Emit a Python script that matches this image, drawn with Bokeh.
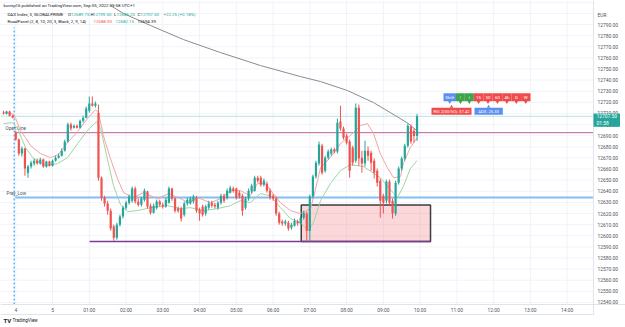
from bokeh.plotting import figure
from bokeh.models import Range1d
from bokeh.embed import file_html
from bokeh.resources import INLINE
from bokeh.core.properties import value

# ---- DAX Index, 5-minute bars (bar index 0..3 = Friday close, 4.. = new session) ----
opens = [12710.75, 12710.0, 12711.75, 12708.0, 12692.75, 12686.5, 12674.0, 12678.5, 12656.75, 12662.25,
         12665.0, 12667.5, 12665.0, 12668.5, 12662.25, 12666.75, 12663.0, 12667.5, 12670.25, 12672.0,
         12676.5, 12684.75, 12700.0, 12697.25, 12699.0, 12697.25, 12703.5, 12706.25, 12712.5, 12719.0,
         12717.0, 12710.75, 12652.25, 12634.25, 12629.0, 12622.5, 12608.25, 12598.25, 12610.0, 12617.25,
         12625.25, 12629.75, 12631.5, 12642.5, 12630.75, 12628.0, 12632.5, 12639.75, 12627.0, 12620.75,
         12625.25, 12630.75, 12628.0, 12626.25, 12629.75, 12642.5, 12633.5, 12624.5, 12624.5, 12619.0,
         12629.0, 12629.0, 12630.75, 12634.25, 12623.5, 12626.25, 12620.0, 12625.25, 12629.75, 12628.0,
         12625.25, 12629.75, 12636.0, 12634.25, 12638.75, 12642.5, 12642.5, 12638.75, 12636.0, 12625.25,
         12633.5, 12639.75, 12640.5, 12652.25, 12652.25, 12646.0, 12646.75, 12640.5, 12636.0, 12633.5,
         12620.0, 12612.75, 12611.0, 12611.75, 12607.25, 12609.0, 12612.75, 12611.0, 12616.25, 12620.0,
         12604.5, 12635.25, 12653.25, 12665.0, 12681.0, 12658.5, 12670.25, 12674.0, 12677.5, 12675.75,
         12702.75, 12696.5, 12690.0, 12684.75, 12679.25, 12667.5, 12715.25, 12670.25, 12665.0, 12676.5,
         12674.75, 12667.5, 12658.5, 12649.5, 12636.0, 12631.5, 12648.75, 12631.5, 12620.0, 12647.75,
         12660.5, 12669.5, 12681.0, 12698.25, 12694.5, 12689.75]
highs = [12712.5, 12712.5, 12712.5, 12709.0, 12694.5, 12687.5, 12680.25, 12679.25, 12663.75, 12667.5,
         12669.5, 12669.5, 12670.25, 12669.5, 12667.5, 12667.5, 12668.5, 12672.0, 12674.0, 12678.5,
         12686.5, 12701.75, 12701.75, 12700.0, 12700.0, 12704.5, 12708.0, 12716.25, 12725.25, 12725.25,
         12720.75, 12718.0, 12653.25, 12636.0, 12631.5, 12624.5, 12610.0, 12611.75, 12619.0, 12627.0,
         12631.5, 12637.0, 12644.25, 12644.25, 12633.5, 12635.25, 12642.5, 12640.5, 12629.0, 12629.0,
         12632.5, 12632.5, 12629.75, 12634.25, 12644.25, 12643.25, 12634.25, 12626.25, 12626.25, 12630.75,
         12634.25, 12635.25, 12637.0, 12636.0, 12625.25, 12628.0, 12628.0, 12631.5, 12631.5, 12629.75,
         12631.5, 12637.75, 12637.75, 12642.5, 12645.0, 12644.25, 12643.25, 12640.5, 12637.75, 12635.25,
         12642.5, 12646.75, 12654.0, 12654.0, 12654.0, 12651.5, 12648.75, 12642.5, 12637.75, 12635.25,
         12621.75, 12614.5, 12614.5, 12613.5, 12611.75, 12615.5, 12614.5, 12618.0, 12622.5, 12621.75,
         12637.0, 12655.0, 12667.5, 12684.75, 12682.75, 12672.0, 12677.5, 12679.25, 12679.25, 12705.5,
         12717.0, 12698.25, 12691.75, 12686.5, 12681.0, 12719.0, 12718.0, 12676.5, 12685.5, 12680.25,
         12676.5, 12669.5, 12660.5, 12651.5, 12637.75, 12650.5, 12650.5, 12633.5, 12649.5, 12662.25,
         12671.25, 12682.75, 12700.75, 12700.0, 12696.5, 12709.5]
lows = [12709.0, 12709.0, 12707.25, 12705.5, 12685.5, 12672.0, 12671.25, 12654.0, 12652.25, 12660.5,
        12663.0, 12664.0, 12664.0, 12661.25, 12661.25, 12662.25, 12662.25, 12666.75, 12669.5, 12671.25,
        12675.75, 12683.75, 12694.5, 12696.5, 12696.5, 12696.5, 12701.75, 12705.5, 12710.75, 12716.25,
        12715.25, 12649.5, 12631.5, 12626.25, 12619.0, 12604.5, 12595.5, 12596.5, 12608.25, 12615.5,
        12623.5, 12628.0, 12629.75, 12629.0, 12626.25, 12626.25, 12630.75, 12624.5, 12619.0, 12620.0,
        12623.5, 12626.25, 12624.5, 12625.25, 12629.0, 12631.5, 12620.75, 12620.75, 12612.75, 12617.25,
        12627.0, 12628.0, 12629.0, 12620.75, 12613.5, 12617.25, 12618.0, 12623.5, 12625.25, 12624.5,
        12623.5, 12628.0, 12629.75, 12632.5, 12638.0, 12638.75, 12632.5, 12633.5, 12618.0, 12623.5,
        12631.5, 12638.0, 12639.75, 12647.75, 12644.25, 12644.25, 12638.75, 12632.5, 12631.5, 12618.0,
        12610.0, 12609.0, 12609.0, 12604.5, 12605.5, 12608.25, 12609.0, 12610.0, 12614.5, 12595.5,
        12594.75, 12633.5, 12651.5, 12663.0, 12655.0, 12656.75, 12668.5, 12672.0, 12674.0, 12674.0,
        12694.5, 12686.5, 12682.0, 12652.25, 12663.0, 12665.75, 12663.0, 12656.75, 12662.25, 12667.5,
        12658.5, 12651.5, 12644.25, 12616.25, 12620.0, 12629.0, 12628.0, 12615.5, 12618.0, 12646.0,
        12658.5, 12667.5, 12679.25, 12682.75, 12683.75, 12685.25]
closes = [12710.0, 12711.75, 12708.0, 12706.25, 12686.5, 12674.0, 12678.5, 12660.5, 12662.25, 12665.75,
          12667.5, 12665.0, 12668.5, 12662.25, 12666.75, 12663.0, 12667.5, 12670.25, 12672.0, 12676.5,
          12684.75, 12700.0, 12696.5, 12699.0, 12697.25, 12703.5, 12706.25, 12714.5, 12719.0, 12717.0,
          12719.0, 12652.25, 12634.25, 12629.0, 12622.5, 12606.5, 12598.25, 12610.0, 12617.25, 12625.25,
          12629.75, 12635.25, 12642.5, 12630.75, 12628.0, 12633.5, 12640.5, 12626.25, 12620.75, 12627.0,
          12630.75, 12628.0, 12626.25, 12632.5, 12642.5, 12633.5, 12622.5, 12622.5, 12615.5, 12629.0,
          12632.5, 12633.5, 12635.25, 12622.5, 12620.0, 12619.0, 12626.25, 12629.0, 12627.0, 12626.25,
          12629.75, 12636.0, 12631.5, 12640.5, 12643.25, 12640.5, 12634.25, 12635.25, 12622.5, 12633.5,
          12640.5, 12645.0, 12652.25, 12649.5, 12646.0, 12649.5, 12640.5, 12634.25, 12633.5, 12620.0,
          12611.75, 12611.0, 12612.75, 12606.5, 12610.0, 12613.5, 12611.0, 12616.25, 12620.75, 12604.5,
          12635.25, 12653.25, 12665.75, 12682.0, 12656.75, 12670.25, 12675.75, 12677.5, 12675.75, 12701.75,
          12696.5, 12688.25, 12683.75, 12658.5, 12665.75, 12715.25, 12669.5, 12665.0, 12676.5, 12672.0,
          12665.75, 12656.75, 12647.75, 12631.5, 12629.75, 12648.75, 12629.75, 12620.0, 12647.75, 12660.5,
          12669.5, 12681.0, 12699.0, 12684.75, 12689.75, 12707.5]
bars = list(range(len(closes)))

# ---- RoadPanel lines (bar index, price) ----
upper_bar = [0, 3, 4, 5.5, 7.2, 8.8, 12.1, 15.3, 17.9, 20.9, 24.2, 27.4, 30.0, 31.0, 32.6, 34.9, 37.2,
             39.2, 42.4, 45.7, 50.3, 53.9, 57.1, 60.4, 63.3, 67.6, 70.8, 74.1, 77.3, 80.6, 82.9, 85.5,
             88.1, 90.4, 93.7, 96.9, 100.2, 101.2, 102.5, 103.5, 106.7, 110.0, 113.2, 116.5, 118.8,
             120.8, 123.0, 125.3, 127.3, 129.6, 130.5, 132.8, 135]
upper_val = [12710.8, 12709.9, 12705.4, 12694.6, 12688.3, 12681.1, 12673.9, 12670.3, 12673.0, 12683.8,
             12693.7, 12705.4, 12713.5, 12710.8, 12690.1, 12669.4, 12651.4, 12638.8, 12634.3, 12638.8,
             12633.4, 12637.9, 12634.3, 12629.8, 12634.3, 12629.8, 12633.4, 12640.6, 12640.6, 12636.1,
             12646.9, 12646.9, 12637.9, 12629.8, 12622.6, 12619.9, 12624.4, 12634.3, 12649.6, 12661.3,
             12670.3, 12682.9, 12690.1, 12699.1, 12700.9, 12691.9, 12673.9, 12661.3, 12652.3, 12653.2,
             12664.9, 12679.3, 12688.0]
lower_bar = [0, 3, 4.6, 7.2, 9.8, 13.7, 17.6, 20.9, 24.2, 27.4, 30.4, 31.7, 33.9, 35.9, 38.2, 40.5,
             43.7, 48.0, 53.5, 57.8, 61.0, 65.3, 69.8, 74.1, 77.3, 80.6, 83.9, 87.1, 90.4, 93.7, 96.9,
             99.5, 101.2, 103.5, 106.7, 110.0, 113.2, 117.5, 123.0, 126.3, 128.6, 130.5, 132.8, 135]
lower_val = [12700.9, 12701.8, 12696.4, 12679.3, 12669.4, 12663.1, 12664.9, 12670.3, 12682.9, 12694.6,
             12702.7, 12696.4, 12669.4, 12645.1, 12628.0, 12621.7, 12622.6, 12625.3, 12627.1, 12624.4,
             12625.3, 12622.6, 12624.4, 12627.1, 12631.6, 12629.8, 12637.9, 12636.1, 12625.3, 12615.4,
             12611.8, 12604.6, 12611.8, 12631.6, 12646.9, 12658.6, 12664.0, 12662.2, 12652.3, 12641.5,
             12634.3, 12644.2, 12660.4, 12667.6]
slow_bar = [34.9, 39.2, 48.0, 58.7, 70.8, 83.9, 96.9, 103.5, 112.3, 120.8, 127.9, 132.2, 135]
slow_val = [12807.1, 12799.9, 12789.1, 12776.5, 12764.8, 12753.1, 12743.2, 12738.7, 12730.6, 12719.8,
            12708.1, 12700.9, 12694.39]

# ---- levels and zone ----
session_bar = 4                 # first bar of the new session
open_level = opens[session_bar]
prev_low = 12634.5
zone_left, zone_right = 97.2, 139.4
zone_top, zone_bottom = 12627.75, 12594.75
base_line_start = 28.1

# ---- scales ----
hour_bars = [4, 16, 28, 40, 52, 64, 76, 88, 100, 112, 124, 136, 148, 160, 172, 184]
hour_labels = ["4", "5", "01:00", "02:00", "03:00", "04:00", "05:00", "06:00", "07:00", "08:00",
               "09:00", "10:00", "11:00", "12:00", "13:00", "14:00"]
price_ticks = list(range(12540, 12800, 10))
grid_ticks = list(range(12540, 12820, 10))
countdown = "01:58"

UP, DOWN = "#26a69a", "#ef5350"
TXT = "#131722"
AXT = "#50535e"
LINE = "#e0e3eb"
FONT = value("Roboto")

W, H = 625, 327
PX_PER_BAR = 3.0633
PX_PER_PT = 1.11192
X0 = -0.98
Y1 = 12811.6
X1 = X0 + W / PX_PER_BAR
Y0 = Y1 - H / PX_PER_PT


def px_x(px):
    return X0 + px / PX_PER_BAR


def px_y(py):
    return Y1 - py / PX_PER_PT


PANE_R = px_x(593)      # right edge of the price pane
PANE_B = px_y(304)      # bottom edge of the price pane

p = figure(width=W, height=H, x_range=Range1d(X0, X1), y_range=Range1d(Y0, Y1),
           output_backend="svg", toolbar_location=None,
           min_border_left=0, min_border_top=0, min_border_right=0, min_border_bottom=0)
p.axis.visible = False
p.grid.visible = False
p.outline_line_color = None
p.background_fill_color = "white"
p.border_fill_color = "white"

# grid
p.segment(x0=hour_bars, y0=[PANE_B] * len(hour_bars), x1=hour_bars, y1=[Y1] * len(hour_bars),
          line_color="#f0f3fa", line_width=1)
p.segment(x0=[X0] * len(grid_ticks), y0=grid_ticks, x1=[PANE_R] * len(grid_ticks), y1=grid_ticks,
          line_color="#f0f3fa", line_width=1)

# last price line
p.segment(x0=[X0], y0=[closes[-1]], x1=[PANE_R], y1=[closes[-1]], line_color=UP, line_alpha=0.3, line_width=1)

# zone box and base line
p.quad(left=zone_left, right=zone_right, bottom=zone_bottom, top=zone_top,
       fill_color="#f23645", fill_alpha=0.2, line_color="#3d3d3d", line_width=1.5)
p.segment(x0=[base_line_start], y0=[zone_bottom], x1=[zone_right], y1=[zone_bottom],
          line_color="#7b3a96", line_width=1.5)

# session break
p.segment(x0=[session_bar - 0.5], y0=[PANE_B], x1=[session_bar - 0.5], y1=[px_y(27)],
          line_color="#64b5f6", line_width=1.5, line_dash="2 2")

# open / previous-low levels
p.segment(x0=[session_bar - 0.2], y0=[open_level], x1=[PANE_R], y1=[open_level],
          line_color="#c77fae", line_width=1.2)
p.segment(x0=[session_bar - 0.2], y0=[prev_low], x1=[PANE_R], y1=[prev_low],
          line_color="#82bdf5", line_width=2)
p.text(x=[px_x(5), px_x(6)], y=[open_level + 1.2, prev_low + 1.4], text=["Open Line", "Prev_Low"],
       text_font=FONT, text_font_size="4.6px", text_color=AXT, text_baseline="bottom")

# indicator lines
p.line(slow_bar, slow_val, line_color="#8c8c8c", line_width=1)
p.line(upper_bar, upper_val, line_color="#f5a3a3", line_width=1)
p.line(lower_bar, lower_val, line_color="#9fd4a2", line_width=1)

# candles
colors = [UP if c >= o else DOWN for o, c in zip(opens, closes)]
tops = [max(o, c) for o, c in zip(opens, closes)]
bots = [min(o, c) for o, c in zip(opens, closes)]
p.segment(x0=bars, y0=lows, x1=bars, y1=highs, line_color=colors, line_width=1)
p.vbar(x=bars, width=0.72, top=tops, bottom=bots, fill_color=colors, line_color=None)

# header and legend
p.text(x=[px_x(3)], y=[px_y(5)], text=["kurnip16 published on TradingView.com, Sep 05, 2022 09:58 UTC+1"],
       text_font=FONT, text_font_size="4.4px", text_color=TXT, text_baseline="middle")
legend_items = [
    ("DAX Index, 5, GLOBALPRIME", 7, 14, TXT), ("O", 67.5, 14, TXT), ("12689.75", 70.5, 14, UP),
    ("H", 90, 14, TXT), ("12709.50", 92.5, 14, UP), ("L", 113.5, 14, TXT), ("12685.25", 116, 14, UP),
    ("C", 137, 14, TXT), ("12707.50", 140, 14, UP), ("+22.25 (+0.18%)", 163, 14, UP),
    ("RoadPanel (2, 8, 10, 20, 3, Black, 2, 9, 14)", 7, 21, TXT), ("12688.00", 93, 21, DOWN),
    ("12682.15", 115, 21, UP), ("12694.39", 137, 21, TXT),
]
p.text(x=[px_x(a) for _, a, _, _ in legend_items], y=[px_y(b) for _, _, b, _ in legend_items],
       text=[t for t, _, _, _ in legend_items], text_color=[c for _, _, _, c in legend_items],
       text_font=FONT, text_font_size="4.4px", text_baseline="middle")

# timeframe panel
panel_texts = ["Shift", "\u2191", "\u2195", "15", "30", "60", "4h", "D", "W"]
panel_colors = ["#5b8ff0", "#3fa34d", "#3fa34d"] + ["#f04b4b"] * 6
panel_edges = [443, 455.5, 464.3, 473.3, 482.8, 492.2, 501.7, 511.1, 520.6, 530]
left = [px_x(a) for a in panel_edges[:-1]]
right = [px_x(a) for a in panel_edges[1:]]
p.quad(left=left, right=right, top=px_y(92.7), bottom=px_y(100.7), fill_color=panel_colors, line_color=None)
mid = [(a + b) / 2 for a, b in zip(left, right)]
p.scatter(x=mid, y=[px_y(101.6)] * len(mid), marker="inverted_triangle", size=3.5,
          fill_color=panel_colors, line_color=None)
p.text(x=mid, y=[px_y(96.8)] * len(mid), text=panel_texts, text_font=FONT, text_font_size="4.4px",
       text_color="white", text_align="center", text_baseline="middle")

info_texts = ["RSI 2(50/50): 37.42", "ADX: 25.33"]
info_colors = ["#f04b4b", "#5b8ff0"]
info_left = [px_x(431), px_x(474)]
info_right = [px_x(471), px_x(502.3)]
p.quad(left=info_left, right=info_right, top=px_y(107.3), bottom=px_y(114.3), fill_color=info_colors,
       line_color=None)
info_mid = [(a + b) / 2 for a, b in zip(info_left, info_right)]
p.scatter(x=info_mid, y=[px_y(106.3)] * 2, marker="triangle", size=3.5, fill_color=info_colors, line_color=None)
p.text(x=info_mid, y=[px_y(110.8)] * 2, text=info_texts, text_font=FONT, text_font_size="4.2px",
       text_color="white", text_align="center", text_baseline="middle")

# pane borders
p.segment(x0=[PANE_R, X0, X0], y0=[px_y(314), PANE_B, px_y(314)], x1=[PANE_R, X1, PANE_R],
          y1=[Y1, PANE_B, px_y(314)], line_color=LINE, line_width=1)

# price scale
p.text(x=[px_x(597)] * len(price_ticks), y=price_ticks, text=[f"{t:.2f}" for t in price_ticks],
       text_font=FONT, text_font_size="4.9px", text_color=AXT, text_baseline="middle")
p.text(x=[px_x(597)], y=[px_y(14)], text=["EUR"], text_font=FONT, text_font_size="4.9px",
       text_color=AXT, text_baseline="middle")
tag_top = closes[-1] + 2.7 / PX_PER_PT
tag_bottom = closes[-1] - 10.5 / PX_PER_PT
p.quad(left=[PANE_R], right=[px_x(619.5)], top=[tag_top], bottom=[tag_bottom], fill_color=UP, line_color=None)
p.text(x=[px_x(596)] * 2, y=[closes[-1], closes[-1] - 6.4 / PX_PER_PT],
       text=[f"{closes[-1]:.2f}", countdown], text_font=FONT, text_font_size="4.9px",
       text_color="white", text_baseline="middle")

# time scale
p.text(x=hour_bars, y=[px_y(309.5)] * len(hour_bars), text=hour_labels, text_font=FONT,
       text_font_size="4.9px", text_color=AXT, text_align="center", text_baseline="middle")

# footer logo
p.text(x=[px_x(3), px_x(12)], y=[px_y(320)] * 2, text=["TV", "TradingView"], text_font=FONT,
       text_font_size=["6px", "4.6px"], text_font_style=["bold", "normal"], text_color=TXT,
       text_baseline="middle")

open("out.html", "w").write(file_html(p, INLINE))
